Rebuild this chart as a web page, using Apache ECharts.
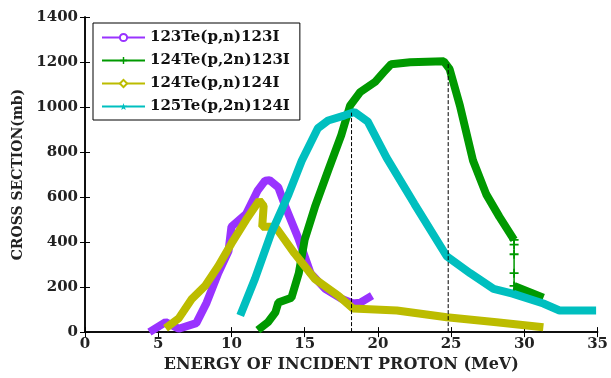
<!DOCTYPE html>
<html>
<head>
<meta charset="utf-8">
<script src="https://cdn.jsdelivr.net/npm/echarts@6/dist/echarts.min.js"></script>
<style>
  html, body { margin: 0; padding: 0; background: #fff; }
  #chart { width: 611px; height: 378px; }
</style>
</head>
<body>
<div id="chart"></div>
<script>
// [energy MeV, cross section mb]
const names = ["123Te(p,n)123I", "124Te(p,2n)123I", "124Te(p,n)124I", "125Te(p,2n)124I"];

const te123pn = [
  [4.4, 0], [5.5, 44], [6.4, 15], [7.6, 40], [8.3, 130], [9.1, 262], [9.8, 360],
  [10.0, 468], [11.0, 525], [11.8, 630], [12.3, 673], [12.6, 675], [13.2, 643],
  [13.7, 555], [14.6, 411], [15.4, 262], [16.4, 192], [17.5, 149], [18.3, 127],
  [18.8, 131], [19.6, 162]
];

const te124p2n = [
  [11.8, 9], [12.5, 44], [13.0, 88], [13.2, 131], [14.1, 153], [14.6, 262],
  [15.0, 411], [15.7, 556], [16.6, 717], [17.5, 875], [18.1, 1006], [18.8, 1067],
  [19.8, 1111], [20.4, 1155], [20.9, 1190], [22.2, 1199], [24.5, 1203],
  [24.9, 1168], [25.6, 1006], [26.5, 761], [27.4, 612], [28.3, 512], [29.3, 410],
  "-",
  [29.3, 205], [31.3, 153]
];
// sparse points on the drop near 29 MeV
const te124p2nDrop = [[29.3, 410], [29.3, 389], [29.3, 346], [29.3, 262], [29.3, 205]];

const te124pn = [
  [5.5, 17], [6.4, 61], [7.3, 148], [8.2, 205], [9.1, 293], [10.0, 394],
  [11.0, 499], [11.9, 585], [12.2, 560], [12.1, 468], [13.0, 468], [14.3, 350],
  [15.7, 236], [17.3, 162], [18.3, 105], [21.3, 96], [24.7, 66], [28.1, 44],
  [31.3, 22]
];

const te125p2n = [
  [10.6, 74], [11.6, 236], [12.7, 437], [13.9, 612], [14.8, 761], [15.9, 906],
  [16.6, 940], [17.7, 962], [18.4, 978], [19.3, 936], [20.6, 774], [22.5, 569],
  [24.7, 337], [26.3, 262], [27.9, 192], [29.2, 171], [31.3, 127], [32.4, 96],
  [34.9, 96]
];

// dashed guide lines
const guideA = [[18.2, 0], [18.2, 975]];
const guideB = [[24.8, 0], [24.8, 1200]];

const colors = ["#9933ff", "#009900", "#bcbc00", "#00bfbf"];
const plus = "path://M4,0 L6,0 L6,4 L10,4 L10,6 L6,6 L6,10 L4,10 L4,6 L0,6 L0,4 L4,4 Z";
const star = "path://M5,0 L6.2,3.6 L10,3.6 L7,5.9 L8.1,9.5 L5,7.3 L1.9,9.5 L3,5.9 L0,3.6 L3.8,3.6 Z";

const font = "DejaVu Serif";
const chart = echarts.init(document.getElementById("chart"));

const thick = (name, data, color, symbol) => ({
  name, type: "line", data, color,
  symbol, symbolSize: 8, showSymbol: false,
  connectNulls: false,
  lineStyle: { width: 8, color },
  itemStyle: { color, borderColor: color },
  z: 3
});

chart.setOption({
  animation: false,
  grid: { left: 85, right: 9, top: 17, bottom: 41 },
  legend: {
    data: names,
    orient: "vertical",
    left: 93, top: 23,
    padding: [6, 10, 5, 8],
    itemGap: 6,
    itemWidth: 43, itemHeight: 9,
    backgroundColor: "#fff",
    borderColor: "#000", borderWidth: 1, borderRadius: 0,
    lineStyle: { width: 2 },
    textStyle: { fontFamily: font, fontWeight: "bold", fontSize: 15, color: "#111", lineHeight: 17 }
  },
  xAxis: [{
    type: "value", min: 0, max: 35, interval: 5,
    name: "ENERGY OF INCIDENT PROTON (MeV)",
    nameLocation: "middle", nameGap: 23,
    nameTextStyle: { fontFamily: font, fontWeight: "bold", fontSize: 16, color: "#222" },
    axisLine: { lineStyle: { color: "#000", width: 1.5 } },
    axisTick: { inside: true, length: 5, lineStyle: { color: "#000" } },
    axisLabel: { fontFamily: font, fontWeight: "bold", fontSize: 15, color: "#222", margin: 5 },
    splitLine: { show: false }
  }, {
    type: "value", position: "top", min: 0, max: 35, interval: 5,
    axisLine: { lineStyle: { color: "#000", width: 1.5 } },
    axisTick: { inside: true, length: 5, lineStyle: { color: "#000" } },
    axisLabel: { show: false },
    splitLine: { show: false }
  }],
  yAxis: [{
    type: "value", min: 0, max: 1400, interval: 200,
    name: "CROSS SECTION(mb)",
    nameLocation: "middle", nameGap: 60,
    nameTextStyle: { fontFamily: font, fontWeight: "bold", fontSize: 14, color: "#222" },
    axisLine: { show: true, lineStyle: { color: "#000", width: 1.5 } },
    axisTick: { show: true, inside: true, length: 5, lineStyle: { color: "#000" } },
    axisLabel: {
      fontFamily: font, fontWeight: "bold", fontSize: 15, color: "#222", margin: 7,
      formatter: (v) => String(v)
    },
    splitLine: { show: false }
  }, {
    type: "value", position: "right", min: 0, max: 1400, interval: 200,
    axisLine: { show: true, lineStyle: { color: "#000", width: 1.5 } },
    axisTick: { show: true, inside: true, length: 5, lineStyle: { color: "#000" } },
    axisLabel: { show: false },
    splitLine: { show: false }
  }],
  series: [
    {
      type: "line", data: guideA, symbol: "none", silent: true,
      lineStyle: { color: "#000", width: 1, type: [4, 2] }, z: 5
    },
    {
      type: "line", data: guideB, symbol: "none", silent: true,
      lineStyle: { color: "#000", width: 1, type: [4, 2] }, z: 5
    },
    thick(names[0], te123pn, colors[0], "emptyCircle"),
    thick(names[1], te124p2n, colors[1], plus),
    {
      type: "line", data: te124p2nDrop, color: colors[1],
      symbol: plus, symbolSize: [9, 9], showSymbol: true,
      lineStyle: { width: 1.5, color: colors[1] },
      itemStyle: { color: colors[1] }, z: 3
    },
    thick(names[2], te124pn, colors[2], "emptyDiamond"),
    thick(names[3], te125p2n, colors[3], star)
  ]
});
</script>
</body>
</html>
